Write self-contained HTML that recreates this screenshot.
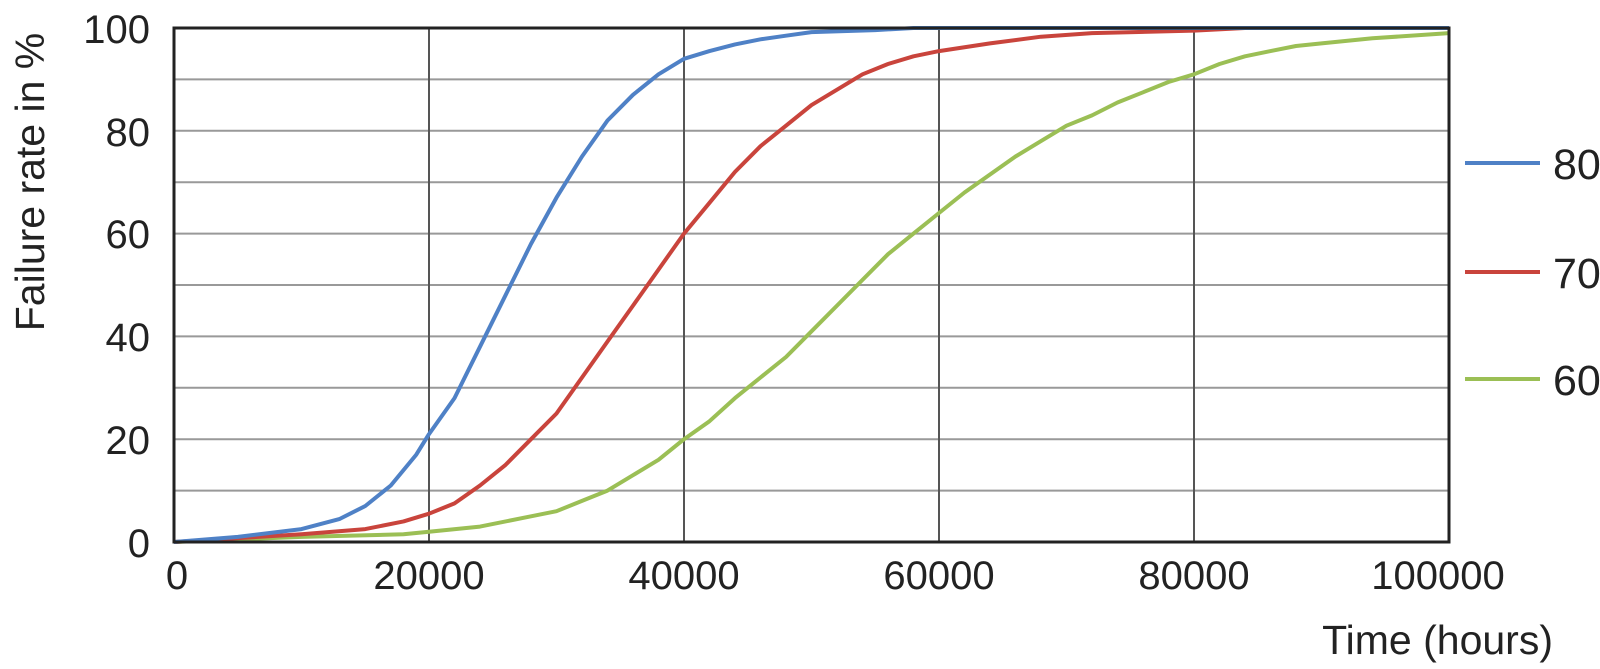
<!DOCTYPE html>
<html><head><meta charset="utf-8"><style>
html,body{margin:0;padding:0;background:#fff}
svg{display:block}
text{font-family:"Liberation Sans",sans-serif;fill:#222}
</style></head><body>
<svg id="s" width="1600" height="669" xmlns="http://www.w3.org/2000/svg">
<g id="grid"></g>
<g id="series"></g>
<rect x="174" y="28" width="1275" height="514" fill="none" stroke="#222" stroke-width="3"/>
<g font-size="40" text-anchor="end">
<text x="150" y="43">100</text><text x="150" y="146">80</text><text x="150" y="248">60</text>
<text x="150" y="351">40</text><text x="150" y="454">20</text><text x="150" y="557">0</text>
</g>
<g font-size="40" text-anchor="middle">
<text x="177" y="589">0</text><text x="429" y="589">20000</text><text x="684" y="589">40000</text>
<text x="939" y="589">60000</text><text x="1194" y="589">80000</text><text x="1438" y="589">100000</text>
</g>
<text x="1553" y="654" font-size="41" text-anchor="end">Time (hours)</text>
<text transform="translate(44,182) rotate(-90)" font-size="41" text-anchor="middle">Failure rate in %</text>
<line x1="1465" y1="163" x2="1540" y2="163" stroke="#4f81c6" stroke-width="4"/>
<line x1="1465" y1="272" x2="1540" y2="272" stroke="#c9443c" stroke-width="4"/>
<line x1="1465" y1="379" x2="1540" y2="379" stroke="#9bbf55" stroke-width="4"/>
<g font-size="43"><text x="1553" y="179">80</text><text x="1553" y="288">70</text><text x="1553" y="395">60</text></g>
</svg>
<script>
var X=function(x){return 174+x/100000*1275},Y=function(v){return 542-v*5.14};
var g='';
for(var i=1;i<10;i++){var y=Y(i*10);g+='<line x1="174" x2="1449" y1="'+y+'" y2="'+y+'" stroke="#999" stroke-width="2"/>';}
for(var i=1;i<5;i++){var x=X(i*20000);g+='<line y1="28" y2="542" x1="'+x+'" x2="'+x+'" stroke="#555" stroke-width="2"/>';}
document.getElementById('grid').innerHTML=g;
var B=[[0,0],[5000,1],[10000,2.5],[13000,4.5],[15000,7],[17000,11],[19000,17],[20000,21],[22000,28],[24000,38],[26000,48],[28000,58],[30000,67],[32000,75],[34000,82],[36000,87],[38000,91],[40000,94],[42000,95.5],[44000,96.8],[46000,97.8],[48000,98.5],[50000,99.2],[55000,99.6],[58000,100],[100000,100]];
var R=[[0,0],[10000,1.5],[15000,2.5],[18000,4],[20000,5.5],[22000,7.5],[24000,11],[26000,15],[28000,20],[30000,25],[32000,32],[34000,39],[36000,46],[38000,53],[40000,60],[42000,66],[44000,72],[46000,77],[48000,81],[50000,85],[52000,88],[54000,91],[56000,93],[58000,94.5],[60000,95.5],[64000,97],[68000,98.3],[72000,99],[80000,99.5],[84000,100],[100000,100]];
var G=[[0,0],[10000,1],[18000,1.5],[20000,2],[24000,3],[28000,5],[30000,6],[32000,8],[34000,10],[36000,13],[38000,16],[40000,20],[42000,23.5],[44000,28],[46000,32],[48000,36],[50000,41],[52000,46],[54000,51],[56000,56],[58000,60],[60000,64],[62000,68],[64000,71.5],[66000,75],[68000,78],[70000,81],[72000,83],[74000,85.5],[76000,87.5],[78000,89.5],[80000,91],[82000,93],[84000,94.5],[86000,95.5],[88000,96.5],[90000,97],[94000,98],[100000,99]];
function P(d,c){return '<polyline fill="none" stroke="'+c+'" stroke-width="4" stroke-linejoin="round" points="'+d.map(function(p){return X(p[0]).toFixed(1)+','+Y(p[1]).toFixed(1)}).join(' ')+'"/>';}
document.getElementById('series').innerHTML=P(G,'#9bbf55')+P(R,'#c9443c')+P(B,'#4f81c6');
</script>
</body></html>
